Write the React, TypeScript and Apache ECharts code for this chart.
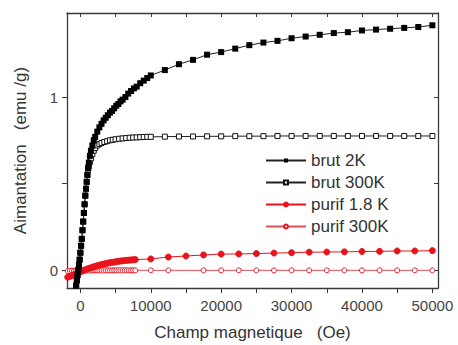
import React, { useEffect, useRef } from "react";
import * as echarts from "echarts";

// Champ magnetique (Oe) / Aimantation (emu/g)
const brut2K: [number, number][] = [
  [-700, -0.12], [-600, -0.09], [-500, -0.06], [-400, -0.03], [-300, 0.0], [-200, 0.03],
  [-100, 0.06], [0, 0.1], [100, 0.14], [200, 0.18], [300, 0.23], [400, 0.28], [500, 0.33],
  [600, 0.38], [700, 0.43], [800, 0.47], [900, 0.51], [1000, 0.55], [1100, 0.59], [1200, 0.62],
  [1350, 0.66], [1500, 0.69], [1700, 0.72], [1900, 0.75], [2100, 0.77], [2400, 0.8], [2700, 0.825],
  [3000, 0.845], [3300, 0.865], [3600, 0.88], [3900, 0.895], [4200, 0.91], [4500, 0.92],
  [4800, 0.935], [5100, 0.95], [5400, 0.96], [5700, 0.975], [6000, 0.985], [6400, 1.0],
  [6800, 1.02], [7200, 1.035], [7600, 1.05], [8000, 1.06], [8500, 1.08], [9000, 1.095],
  [9500, 1.11], [10000, 1.125], [12000, 1.156], [14000, 1.19], [16000, 1.215], [18000, 1.245],
  [20000, 1.26], [22000, 1.28], [24000, 1.3], [26000, 1.315], [28000, 1.325], [30000, 1.34],
  [32000, 1.35], [34000, 1.36], [36000, 1.37], [38000, 1.375], [40000, 1.385], [42000, 1.39],
  [44000, 1.395], [46000, 1.4], [48000, 1.405], [50000, 1.415],
];

const brut300K: [number, number][] = [
  [-700, -0.12], [-600, -0.09], [-500, -0.06], [-400, -0.03], [-300, 0.0], [-200, 0.03],
  [-100, 0.06], [0, 0.1], [100, 0.14], [200, 0.18], [300, 0.23], [400, 0.28], [500, 0.33],
  [600, 0.38], [700, 0.43], [800, 0.47], [900, 0.51], [1000, 0.55], [1100, 0.58], [1200, 0.6],
  [1350, 0.625], [1500, 0.645], [1700, 0.67], [1900, 0.69], [2100, 0.705], [2400, 0.72],
  [2700, 0.728], [3000, 0.735], [3400, 0.74], [3800, 0.745], [4200, 0.75], [4600, 0.753],
  [5000, 0.756], [5500, 0.759], [6000, 0.761], [6500, 0.763], [7000, 0.765], [7500, 0.766],
  [8000, 0.767], [8500, 0.768], [9000, 0.769], [9500, 0.77], [10000, 0.77], [12000, 0.771],
  [14000, 0.772], [16000, 0.772], [18000, 0.773], [20000, 0.773], [22000, 0.774], [24000, 0.774],
  [26000, 0.774], [28000, 0.775], [30000, 0.775], [32000, 0.775], [34000, 0.775], [36000, 0.775],
  [38000, 0.775], [40000, 0.775], [42000, 0.775], [44000, 0.775], [46000, 0.775], [48000, 0.775],
  [50000, 0.775],
];

const purif18K: [number, number][] = [
  [-1800, -0.042], [-1500, -0.037], [-1200, -0.032], [-900, -0.027], [-600, -0.021], [-300, -0.016],
  [0, -0.011], [300, -0.005], [600, 0.0], [900, 0.005], [1200, 0.009], [1500, 0.013],
  [1800, 0.017], [2100, 0.021], [2400, 0.025], [2700, 0.028], [3000, 0.031], [3300, 0.034],
  [3600, 0.037], [3900, 0.04], [4200, 0.042], [4500, 0.044], [4800, 0.046], [5100, 0.048],
  [5400, 0.05], [5700, 0.052], [6000, 0.053], [6300, 0.055], [6600, 0.056], [6900, 0.057],
  [7200, 0.058], [7500, 0.059], [7800, 0.06], [10000, 0.064], [12500, 0.075], [15000, 0.081],
  [17500, 0.087], [20000, 0.092], [22500, 0.093], [25000, 0.095], [27500, 0.098], [30000, 0.1],
  [32500, 0.103], [35000, 0.104], [37500, 0.105], [40000, 0.107], [42500, 0.108], [45000, 0.11],
  [47500, 0.11], [50000, 0.112],
];

const purif300K: [number, number][] = [
  [-1800, -0.006], [-1500, -0.005], [-1200, -0.005], [-900, -0.005], [-600, -0.004], [-300, -0.004],
  [0, -0.004], [300, -0.003], [600, -0.003], [900, -0.003], [1200, -0.003], [1500, -0.003],
  [1800, -0.002], [2100, -0.002], [2400, -0.002], [2700, -0.002], [3000, -0.002], [3300, -0.002],
  [3600, -0.002], [3900, -0.002], [4200, -0.002], [4500, -0.002], [4800, -0.002], [5100, -0.002],
  [5400, -0.002], [5700, -0.002], [6000, -0.002], [6300, -0.002], [6600, -0.002], [6900, -0.002],
  [7200, -0.002], [7500, -0.002], [7800, -0.002], [10000, -0.002], [12500, -0.002],
  [17500, -0.002], [20000, -0.002], [22500, -0.002], [25000, -0.002], [27500, -0.002],
  [30000, -0.002], [32500, -0.002], [35000, -0.002], [37500, -0.002], [40000, -0.002],
  [42500, -0.002], [45000, -0.002], [47500, -0.002], [50000, -0.002],
];

const xLabels = [0, 10000, 20000, 30000, 40000, 50000];
const xTicks = [0, 5000, 10000, 15000, 20000, 25000, 30000, 35000, 40000, 45000, 50000];
const yLabels = [0, 1];
const yTicks = [0, 0.5, 1];

const FONT = "Liberation Sans, Arial, sans-serif";
const AX = "#3a3a3a";
const RED = "#e8141c";

export default function App() {
  const ref = useRef<HTMLDivElement>(null);
  useEffect(() => {
    if (!ref.current) return;
    const chart = echarts.init(ref.current, undefined, { renderer: "svg" });
    const axisLine = { show: true, onZero: false, lineStyle: { color: AX, width: 1.3 } };
    const plain = (v: number) => String(v);
    chart.setOption({
      animation: false,
      backgroundColor: "#fff",
      grid: { left: 67, right: 20, top: 13, bottom: 57, containLabel: false, outerBoundsMode: "none" },
      legend: {
        orient: "vertical",
        left: 265,
        top: 152,
        padding: 0,
        itemWidth: 40,
        itemHeight: 5,
        itemGap: 5,
        textStyle: { fontFamily: FONT, fontSize: 17, color: "#333", lineHeight: 17 },
        data: ["brut 2K", "brut 300K", "purif 1.8 K", "purif 300K"],
      },
      xAxis: [
        {
          type: "value",
          min: -1900,
          max: 50800,
          position: "bottom",
          axisLine,
          splitLine: { show: false },
          axisTick: { show: true, inside: false, length: 5, customValues: xTicks, lineStyle: { color: AX } },
          axisLabel: { customValues: xLabels, formatter: plain, fontFamily: FONT, fontSize: 15, color: "#444", margin: 10 },
          name: "Champ magnetique   (Oe)",
          nameLocation: "middle",
          nameGap: 36,
          nameTextStyle: { fontFamily: FONT, fontSize: 17, color: "#333" },
        },
        {
          type: "value",
          min: -1900,
          max: 50800,
          position: "top",
          axisLine,
          splitLine: { show: false },
          axisTick: { show: true, inside: true, length: 4, customValues: xTicks, lineStyle: { color: AX } },
          axisLabel: { show: false },
        },
      ],
      yAxis: [
        {
          type: "value",
          min: -0.104,
          max: 1.486,
          position: "left",
          axisLine,
          splitLine: { show: false },
          axisTick: { show: true, inside: false, length: 5, customValues: yTicks, lineStyle: { color: AX } },
          axisLabel: { customValues: yLabels, formatter: plain, fontFamily: FONT, fontSize: 15, color: "#444", margin: 9 },
          name: "Aimantation   (emu /g)",
          nameLocation: "middle",
          nameGap: 38,
          nameTextStyle: { fontFamily: FONT, fontSize: 17, color: "#333" },
        },
        {
          type: "value",
          min: -0.104,
          max: 1.486,
          position: "right",
          axisLine,
          splitLine: { show: false },
          axisTick: { show: true, inside: true, length: 4, customValues: yTicks, lineStyle: { color: AX } },
          axisLabel: { show: false },
        },
      ],
      series: [
        {
          name: "purif 300K",
          type: "line",
          data: purif300K,
          symbol: "circle",
          symbolSize: 5,
          clip: true,
          itemStyle: { color: "#fff", borderColor: RED, borderWidth: 1 },
          lineStyle: { color: "#e0505a", width: 1 },
          z: 3,
        },
        {
          name: "purif 1.8 K",
          type: "line",
          data: purif18K,
          symbol: "circle",
          symbolSize: 6,
          clip: true,
          itemStyle: { color: RED, borderColor: RED, borderWidth: 1 },
          lineStyle: { color: RED, width: 1 },
          z: 4,
        },
        {
          name: "brut 300K",
          type: "line",
          data: brut300K,
          symbol: "rect",
          symbolSize: 5,
          clip: true,
          itemStyle: { color: "#fff", borderColor: "#111", borderWidth: 1 },
          lineStyle: { color: "#222", width: 1 },
          z: 5,
        },
        {
          name: "brut 2K",
          type: "line",
          data: brut2K,
          symbol: "rect",
          symbolSize: 6,
          clip: true,
          itemStyle: { color: "#000", borderColor: "#000", borderWidth: 0 },
          lineStyle: { color: "#222", width: 1 },
          z: 6,
        },
      ],
    });
    return () => chart.dispose();
  }, []);
  return (
    <div
      ref={ref}
      style={{ width: 458, height: 345, position: "absolute", left: 0, top: 0, background: "#fff" }}
    />
  );
}
